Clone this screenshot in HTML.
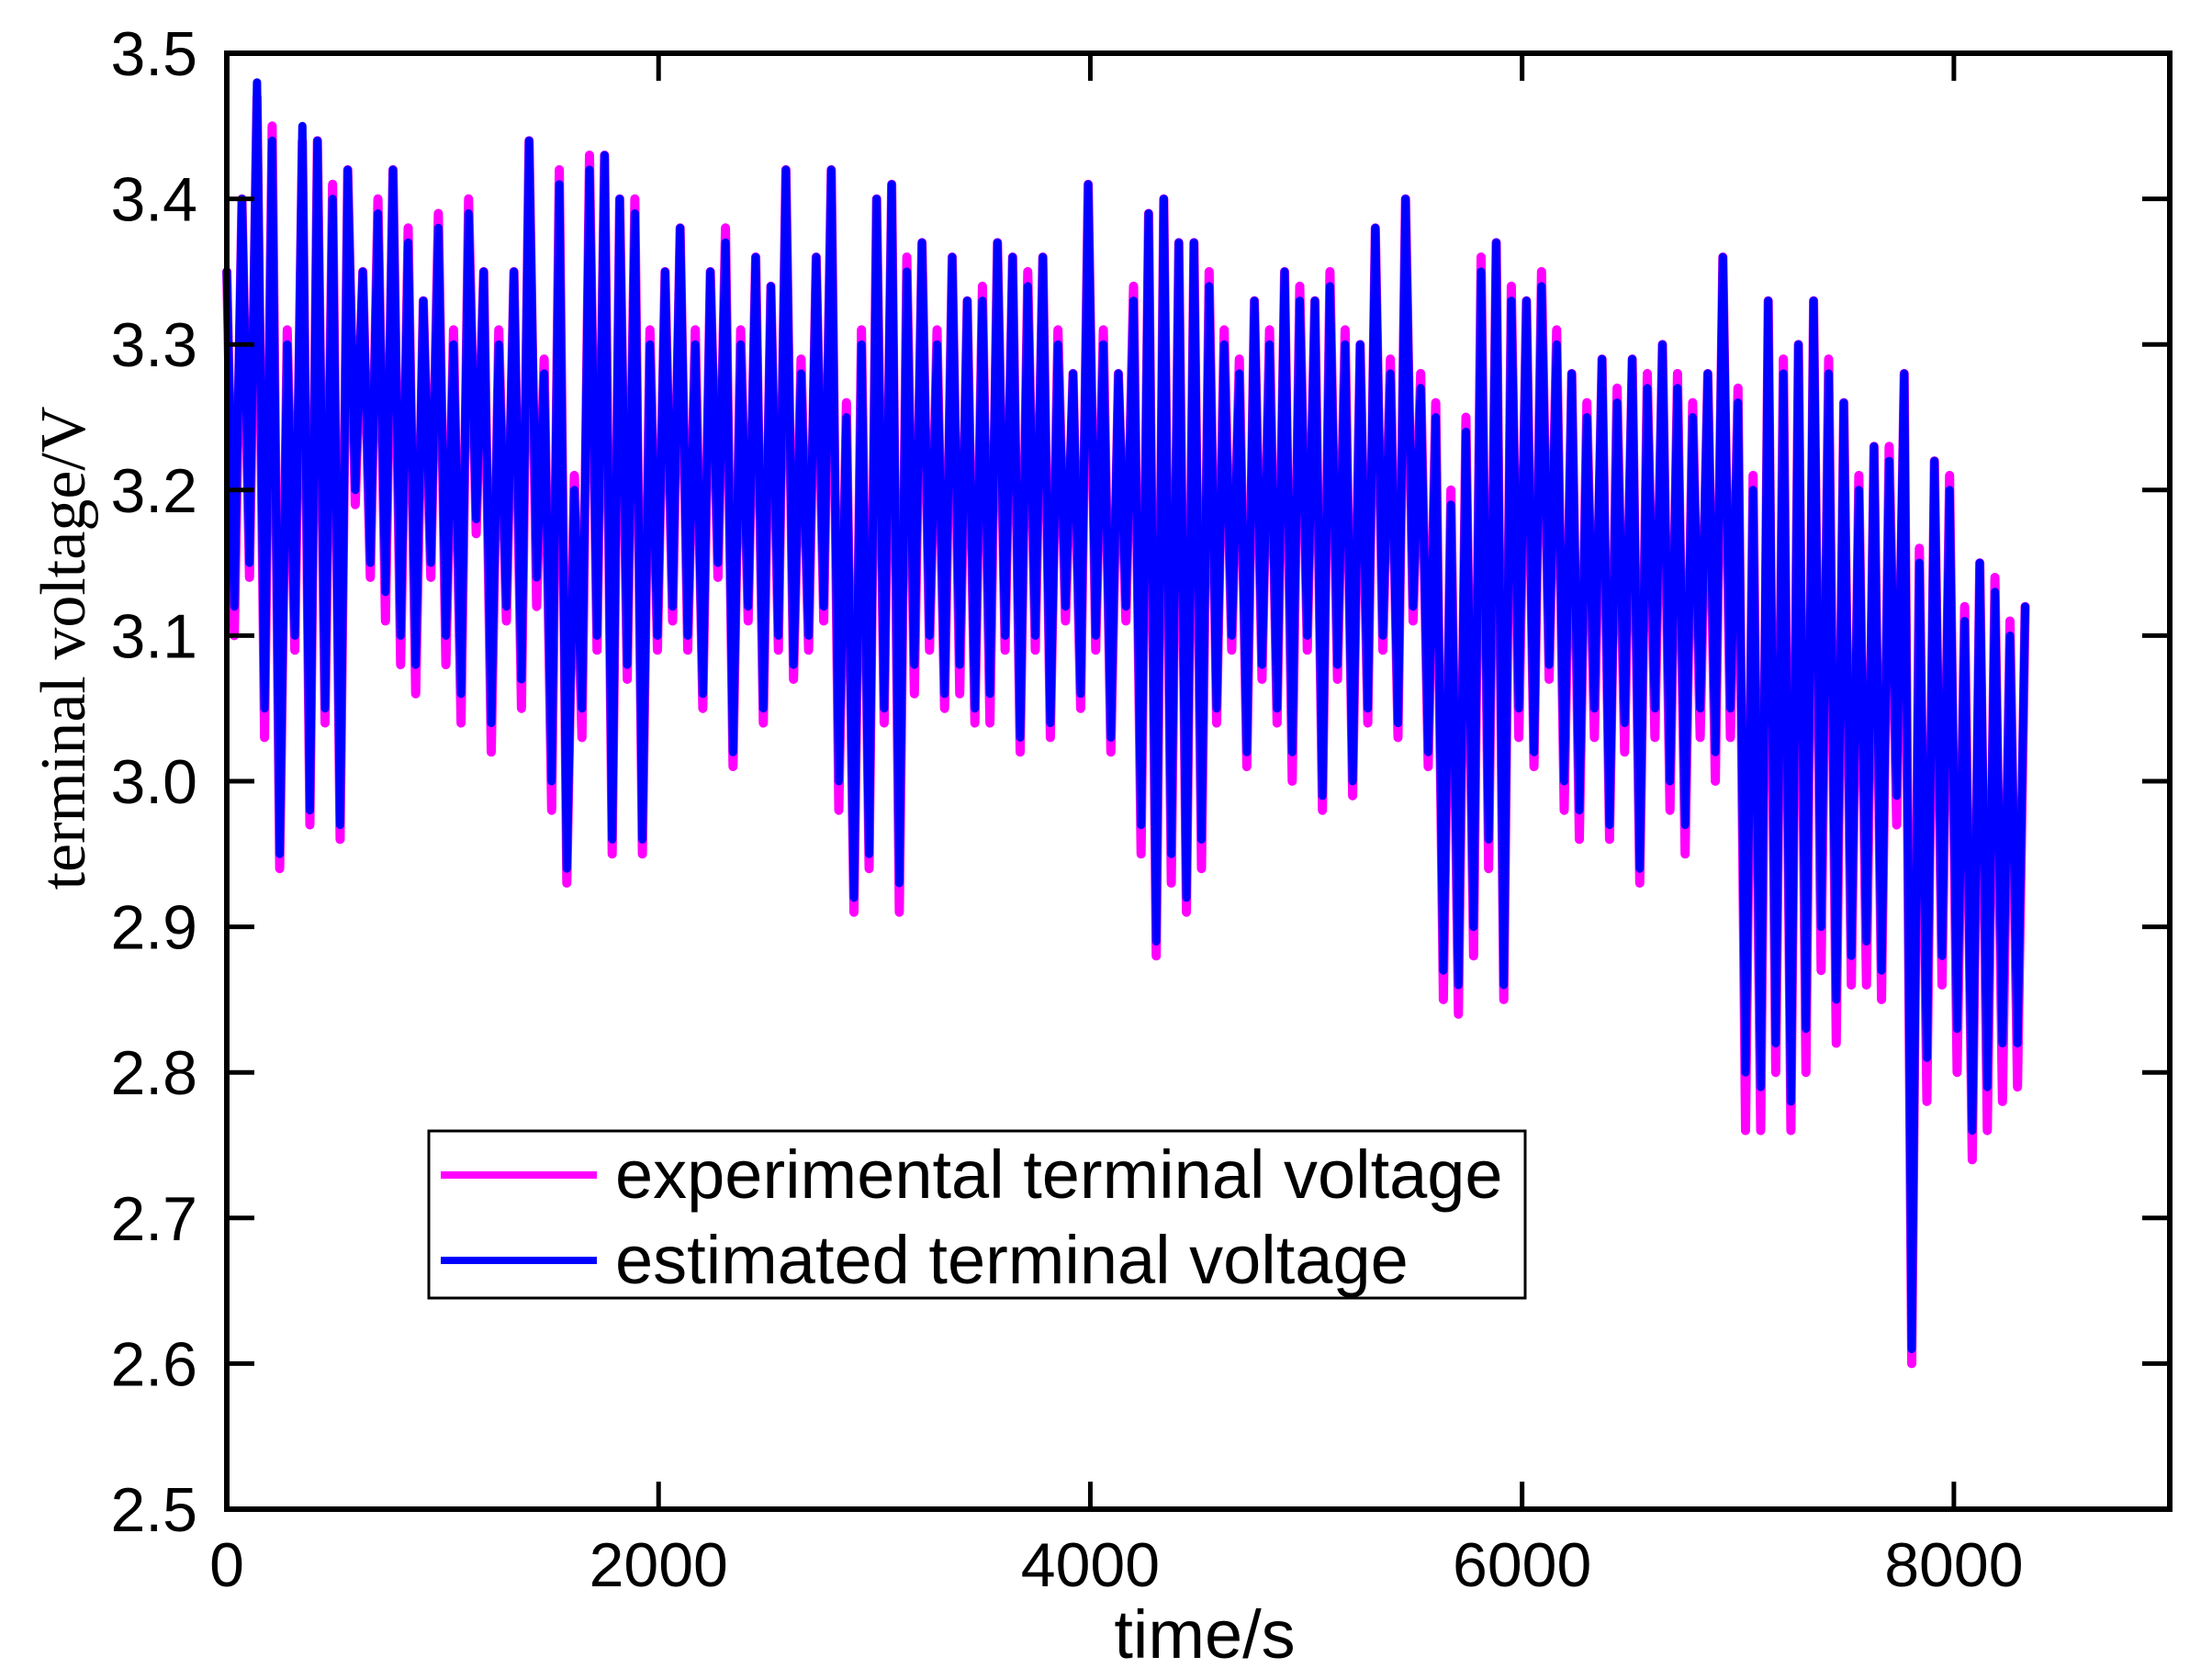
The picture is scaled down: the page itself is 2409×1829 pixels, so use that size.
<!DOCTYPE html>
<html><head><meta charset="utf-8"><style>
html,body{margin:0;padding:0;background:#fff;}
svg{display:block;}
</style></head><body>
<svg id="chart" width="2409" height="1829" viewBox="0 0 2409 1829" xmlns="http://www.w3.org/2000/svg">
<g id="plot"></g>
<g id="axes"></g>
</svg>
<script>
const dt = 35;
const estimated = [
3.35,3.12,3.40,3.15,3.48,3.05,3.44,2.95,3.30,3.10,3.45,2.98,3.44,3.05,3.40,2.97,3.42,3.20,3.35,3.15,
3.39,3.13,3.42,3.10,3.37,3.08,3.33,3.15,3.38,3.10,3.30,3.06,3.39,3.18,3.35,3.04,3.30,3.12,3.35,3.07,
3.44,3.14,3.28,3.00,3.41,2.94,3.20,3.05,3.42,3.10,3.43,2.96,3.40,3.08,3.39,2.96,3.30,3.10,3.35,3.12,
3.38,3.10,3.30,3.06,3.35,3.15,3.37,3.02,3.30,3.12,3.36,3.05,3.34,3.10,3.42,3.08,3.28,3.10,3.36,3.12,
3.42,3.00,3.25,2.92,3.30,2.95,3.40,3.05,3.41,2.93,3.35,3.08,3.37,3.10,3.30,3.06,3.36,3.08,3.33,3.05,
3.33,3.06,3.37,3.10,3.36,3.03,3.34,3.10,3.36,3.04,3.30,3.12,3.28,3.06,3.41,3.10,3.30,3.03,3.28,3.12,
3.33,2.97,3.39,2.89,3.40,2.95,3.37,2.92,3.37,2.96,3.34,3.05,3.30,3.10,3.28,3.02,3.33,3.08,3.30,3.05,
3.35,3.02,3.33,3.10,3.33,2.99,3.34,3.08,3.30,3.00,3.30,3.05,3.38,3.10,3.28,3.04,3.40,3.12,3.27,3.02,
3.25,2.87,3.19,2.86,3.24,2.90,3.35,2.96,3.37,2.86,3.33,3.05,3.33,3.02,3.34,3.08,3.30,3.00,3.28,2.98,
3.25,3.05,3.29,2.97,3.26,3.04,3.29,2.94,3.27,3.05,3.30,3.00,3.27,2.97,3.25,3.05,3.28,3.02,3.36,3.05,
3.26,2.80,3.20,2.79,3.33,2.82,3.28,2.78,3.30,2.83,3.33,2.90,3.28,2.85,3.26,2.88,3.20,2.89,3.23,2.87,
3.22,2.99,3.28,2.61,3.15,2.81,3.22,2.88,3.20,2.83,3.11,2.76,3.15,2.79,3.13,2.82,3.10,2.82,3.12
];
const experimental = [
3.35,3.10,3.40,3.14,3.47,3.03,3.45,2.94,3.31,3.09,3.44,2.97,3.44,3.04,3.41,2.96,3.42,3.19,3.35,3.14,
3.40,3.11,3.42,3.08,3.38,3.06,3.33,3.14,3.39,3.08,3.31,3.04,3.40,3.17,3.35,3.02,3.31,3.11,3.35,3.05,
3.44,3.12,3.29,2.98,3.42,2.93,3.21,3.03,3.43,3.09,3.43,2.95,3.40,3.07,3.40,2.95,3.31,3.09,3.35,3.11,
3.38,3.09,3.31,3.05,3.35,3.14,3.38,3.01,3.31,3.11,3.36,3.04,3.34,3.09,3.42,3.07,3.29,3.09,3.36,3.11,
3.42,2.98,3.26,2.91,3.31,2.94,3.40,3.04,3.41,2.91,3.36,3.06,3.37,3.09,3.31,3.05,3.36,3.06,3.33,3.04,
3.34,3.04,3.37,3.09,3.36,3.02,3.35,3.09,3.36,3.03,3.31,3.11,3.28,3.05,3.41,3.09,3.31,3.02,3.28,3.11,
3.34,2.95,3.39,2.88,3.40,2.93,3.37,2.91,3.37,2.94,3.35,3.04,3.31,3.09,3.29,3.01,3.33,3.07,3.31,3.04,
3.35,3.00,3.34,3.09,3.33,2.98,3.35,3.07,3.31,2.99,3.30,3.04,3.38,3.09,3.29,3.03,3.40,3.11,3.28,3.01,
3.26,2.85,3.20,2.84,3.25,2.88,3.36,2.94,3.37,2.85,3.34,3.03,3.33,3.01,3.35,3.07,3.31,2.98,3.28,2.96,
3.26,3.03,3.29,2.96,3.27,3.02,3.29,2.93,3.28,3.03,3.30,2.98,3.28,2.95,3.26,3.03,3.28,3.00,3.36,3.03,
3.27,2.76,3.21,2.76,3.33,2.80,3.29,2.76,3.30,2.80,3.33,2.87,3.29,2.82,3.26,2.86,3.21,2.86,3.23,2.85,
3.23,2.97,3.28,2.60,3.16,2.78,3.22,2.86,3.21,2.80,3.12,2.74,3.15,2.76,3.14,2.78,3.11,2.79,3.12
];
const xTicks = [0,2000,4000,6000,8000];
const yTicks = [2.5,2.6,2.7,2.8,2.9,3.0,3.1,3.2,3.3,3.4,3.5];

const L=247,R=2363,T=58,B=1644;
const xMin=0,xMax=9000,yMin=2.5,yMax=3.5;
function xs(v){return L+(v-xMin)/(xMax-xMin)*(R-L);}
function ys(v){return B-(v-yMin)/(yMax-yMin)*(B-T);}
const NS="http://www.w3.org/2000/svg";
const plot=document.getElementById('plot');
const axes=document.getElementById('axes');
function mk(tag,attrs,parent){const e=document.createElementNS(NS,tag);for(const k in attrs)e.setAttribute(k,attrs[k]);parent.appendChild(e);return e;}

function pathFor(arr){return arr.map((v,i)=>(i?'L':'M')+xs(i*dt).toFixed(1)+' '+ys(v).toFixed(1)).join(' ');}
const p1=mk('path',{d:pathFor(experimental),fill:'none',stroke:'#ff00ff','stroke-width':10,'stroke-linejoin':'round','stroke-linecap':'round'},plot);


const p2=mk('path',{d:pathFor(estimated),fill:'none',stroke:'#0000ff','stroke-width':9,'stroke-linejoin':'round','stroke-linecap':'round'},plot);



const frame=mk('rect',{x:L,y:T,width:R-L,height:B-T,fill:'none',stroke:'#000','stroke-width':6},axes);



const tf='font-family:"Liberation Sans",sans-serif';
xTicks.forEach(v=>{
  const x=xs(v);
  mk('line',{x1:x,y1:B,x2:x,y2:B-30,stroke:'#000','stroke-width':5},axes);
  mk('line',{x1:x,y1:T,x2:x,y2:T+30,stroke:'#000','stroke-width':5},axes);
  const t=mk('text',{x:x,y:B+84,'text-anchor':'middle','font-size':68,style:tf},axes);
  t.textContent=v;
  
  
});
yTicks.forEach(v=>{
  const y=ys(v);
  mk('line',{x1:L,y1:y,x2:L+30,y2:y,stroke:'#000','stroke-width':5},axes);
  mk('line',{x1:R,y1:y,x2:R-30,y2:y,stroke:'#000','stroke-width':5},axes);
  const t=mk('text',{x:L-32,y:y+24,'text-anchor':'end','font-size':68,style:tf},axes);
  t.textContent=v.toFixed(1);
  
  
});
const xt=mk('text',{x:1312,y:1806,'text-anchor':'middle','font-size':74,style:tf},axes);
xt.textContent='time/s';


const yt=mk('text',{x:0,y:0,'text-anchor':'middle','font-size':70,transform:'translate(92,706) rotate(-90)',style:'font-family:"Liberation Serif",serif'},axes);
yt.textContent='terminal voltage/V';



const lg=mk('g',{},axes);


mk('rect',{x:467,y:1232,width:1194,height:182,fill:'#fff',stroke:'#000','stroke-width':3},lg);
const le1=mk('line',{x1:480,y1:1280,x2:650,y2:1280,stroke:'#ff00ff','stroke-width':8},lg);


const lt1=mk('text',{x:670,y:1305,'font-size':74,style:tf},lg);
lt1.textContent='experimental terminal voltage';


const le2=mk('line',{x1:480,y1:1373,x2:650,y2:1373,stroke:'#0000ff','stroke-width':8},lg);


const lt2=mk('text',{x:670,y:1398,'font-size':74,style:tf},lg);
lt2.textContent='estimated terminal voltage';


</script>
</body></html>
